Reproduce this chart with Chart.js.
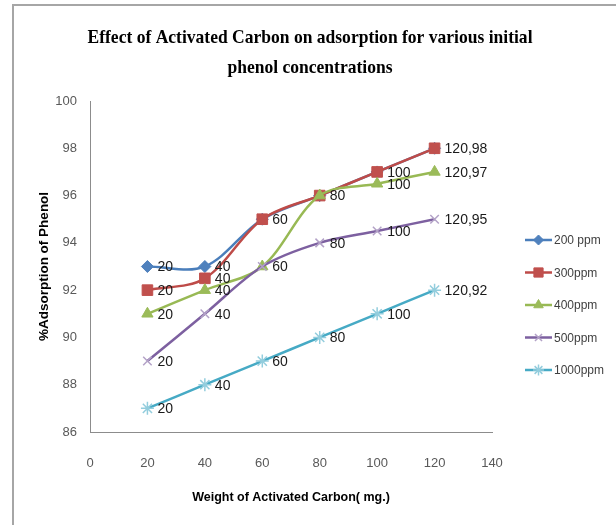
<!DOCTYPE html>
<html lang="en">
<head>
    <meta charset="UTF-8">
    <title>Effect of Activated Carbon on adsorption</title>
    <script src="https://cdn.jsdelivr.net/npm/chart.js"></script>
    <style>
        html, body { margin: 0; padding: 0; background: #fff; }
        canvas { display: block; }
    </style>
</head>
<body>
    <canvas id="adsChart" width="616" height="525"></canvas>

    <script>
        // weight of activated carbon (mg)
        const carbonWeight = [20, 40, 60, 80, 100, 120];

        // % adsorption of phenol per initial concentration
        const ppm200 = [93, 93, 95, 96, 97, 98];
        const ppm300 = [92, 92.5, 95, 96, 97, 98];
        const ppm400 = [91, 92, 93, 96, 96.5, 97];
        const ppm500 = [89, 91, 93, 94, 94.5, 95];
        const ppm1000 = [87, 88, 89, 90, 91, 92];

        const seriesNames = ['200 ppm', '300ppm', '400ppm', '500ppm', '1000ppm'];
        const titleLines = ['Effect of Activated Carbon on adsorption for various initial', 'phenol concentrations'];

        const sans = '"Liberation Sans", Arial, sans-serif';

        function toPoints(ys) {
            return carbonWeight.map((x, i) => ({ x: x, y: ys[i] }));
        }

        function makeSet(label, ys, line, marker, style, radius, order) {
            const filled = style !== 'crossRot' && style !== 'star';
            return {
                label: label,
                data: toPoints(ys),
                borderColor: line,
                borderWidth: 2.5,
                pointStyle: style,
                pointRadius: radius,
                pointBackgroundColor: filled ? marker : 'transparent',
                pointBorderColor: marker,
                pointBorderWidth: filled ? 1 : 1.5,
                tension: 0.33,
                order: order
            };
        }

        // outer frame lines on the left and top
        const framePlugin = {
            id: 'frame',
            beforeDraw(chart) {
                const ctx = chart.ctx;
                ctx.save();
                ctx.fillStyle = '#fff';
                ctx.fillRect(0, 0, chart.width, chart.height);
                ctx.strokeStyle = '#a6a6a6';
                ctx.lineWidth = 2;
                ctx.beginPath();
                ctx.moveTo(13, chart.height);
                ctx.lineTo(13, 5);
                ctx.lineTo(chart.width, 5);
                ctx.stroke();
                ctx.restore();
            }
        };

        // two line bold serif heading, slightly condensed
        const headingPlugin = {
            id: 'heading',
            afterDraw(chart) {
                const ctx = chart.ctx;
                ctx.save();
                ctx.font = 'bold 19px "Liberation Serif", "Times New Roman", serif';
                ctx.fillStyle = '#000';
                ctx.textAlign = 'center';
                ctx.textBaseline = 'middle';
                const squeeze = 445 / ctx.measureText(titleLines[0]).width;
                ctx.translate(310, 0);
                ctx.scale(squeeze, 1);
                ctx.fillText(titleLines[0], 0, 38);
                ctx.fillText(titleLines[1], 0, 68);
                ctx.restore();
            }
        };

        // point labels: x value, and "x,y" on the last point
        // (identical labels on coinciding points are drawn once)
        const pointLabelPlugin = {
            id: 'pointLabels',
            afterDatasetsDraw(chart) {
                const ctx = chart.ctx;
                const seen = new Set();
                ctx.save();
                ctx.font = '14px ' + sans;
                ctx.fillStyle = '#1a1a1a';
                ctx.textAlign = 'left';
                ctx.textBaseline = 'middle';
                const metas = chart.getSortedVisibleDatasetMetas().slice().reverse();
                metas.forEach(meta => {
                    const ds = chart.data.datasets[meta.index];
                    meta.data.forEach((pt, i) => {
                        const v = ds.data[i];
                        const txt = i === ds.data.length - 1 ? v.x + ',' + v.y : String(v.x);
                        const key = txt + '@' + Math.round(pt.x) + ',' + Math.round(pt.y);
                        if (seen.has(key)) return;
                        seen.add(key);
                        ctx.fillText(txt, pt.x + 10, pt.y + 1);
                    });
                });
                ctx.restore();
            }
        };

        // legend on the right
        const sideLegendPlugin = {
            id: 'sideLegend',
            afterDraw(chart) {
                const ctx = chart.ctx;
                const x0 = 525, x1 = 552, top = 240, step = 32.5;
                ctx.save();
                chart.data.datasets.forEach((ds, i) => {
                    const y = top + i * step;
                    ctx.strokeStyle = ds.borderColor;
                    ctx.lineWidth = 2.5;
                    ctx.beginPath();
                    ctx.moveTo(x0, y);
                    ctx.lineTo(x1, y);
                    ctx.stroke();
                    ctx.fillStyle = ds.pointBackgroundColor;
                    ctx.strokeStyle = ds.pointBorderColor;
                    ctx.lineWidth = ds.pointBorderWidth;
                    Chart.helpers.drawPoint(ctx, {
                        pointStyle: ds.pointStyle,
                        radius: ds.pointRadius - 1,
                        rotation: 0,
                        borderWidth: ds.pointBorderWidth
                    }, (x0 + x1) / 2, y);
                    ctx.fillStyle = '#404040';
                    ctx.font = '12px ' + sans;
                    ctx.textAlign = 'left';
                    ctx.textBaseline = 'middle';
                    ctx.fillText(ds.label, x1 + 2, y + 1);
                });
                ctx.restore();
            }
        };

        new Chart(document.getElementById('adsChart'), {
            type: 'scatter',
            data: {
                datasets: [
                    makeSet(seriesNames[0], ppm200, '#4a7ebb', '#4f81bd', 'rectRot', 6, 5),
                    makeSet(seriesNames[1], ppm300, '#be4b48', '#c0504d', 'rect', 7.5, 4),
                    makeSet(seriesNames[2], ppm400, '#98b954', '#9bbb59', 'triangle', 6.5, 3),
                    makeSet(seriesNames[3], ppm500, '#7d60a0', '#b3a2c7', 'crossRot', 6, 2),
                    makeSet(seriesNames[4], ppm1000, '#46aac5', '#93cddd', 'star', 6.5, 1)
                ]
            },
            options: {
                responsive: false,
                animation: false,
                showLine: true,
                layout: { padding: { left: 36, right: 124, top: 101, bottom: 20 } },
                plugins: {
                    legend: { display: false },
                    title: { display: false },
                    tooltip: { enabled: false }
                },
                scales: {
                    x: {
                        type: 'linear',
                        min: 0,
                        max: 140,
                        ticks: {
                            stepSize: 20,
                            padding: 24,
                            color: '#595959',
                            font: { family: sans, size: 13 }
                        },
                        grid: { display: false, drawTicks: false },
                        border: { display: true, color: '#8c8c8c', width: 1 },
                        title: {
                            display: true,
                            text: 'Weight of Activated Carbon( mg.)',
                            color: '#000',
                            font: { family: sans, size: 12.5, weight: 'bold' },
                            padding: 0
                        },
                        afterFit(scale) { scale.height = 73; }
                    },
                    y: {
                        type: 'linear',
                        min: 86,
                        max: 100,
                        ticks: {
                            stepSize: 2,
                            padding: 13,
                            color: '#595959',
                            font: { family: sans, size: 13 }
                        },
                        grid: { display: false, drawTicks: false },
                        border: { display: true, color: '#8c8c8c', width: 1 },
                        title: {
                            display: true,
                            text: '%Adsorption of Phenol',
                            color: '#000',
                            font: { family: sans, size: 13.5, weight: 'bold' },
                            padding: 0
                        },
                        afterFit(scale) { scale.width = 54; }
                    }
                }
            },
            plugins: [framePlugin, headingPlugin, pointLabelPlugin, sideLegendPlugin]
        });
    </script>
</body>
</html>
